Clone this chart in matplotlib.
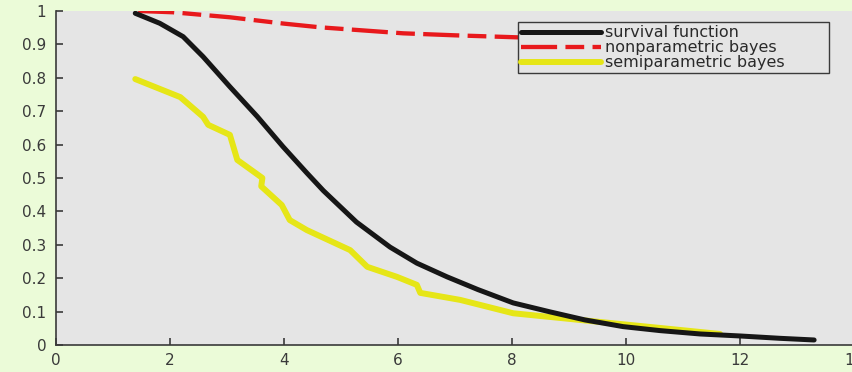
import matplotlib
matplotlib.use("Agg")
import matplotlib.pyplot as plt

# ---- data ----
surv_x = [1.39, 1.82, 2.23, 2.58, 3.05, 3.53, 3.98, 4.4, 4.69, 5.27, 5.86, 6.33,
          6.86, 7.4, 8.02, 8.67, 9.28, 9.95, 10.6, 11.3, 12.0, 12.7, 13.3]
surv_y = [0.993, 0.963, 0.923, 0.863, 0.773, 0.684, 0.594, 0.515, 0.462, 0.368, 0.293, 0.245,
          0.204, 0.166, 0.126, 0.099, 0.075, 0.055, 0.043, 0.033, 0.027, 0.02, 0.015]

nonp_x = [1.44, 2.05, 3.05, 4.0, 4.63, 6.09, 7.0, 8.09, 9.5, 11.0, 12.5, 13.3]
nonp_y = [1.0, 0.996, 0.981, 0.962, 0.951, 0.933, 0.927, 0.921, 0.912, 0.903, 0.895, 0.89]

semi_x = [1.39, 2.18, 2.58, 2.67, 3.05, 3.18, 3.62, 3.6, 3.96, 4.1, 4.4, 5.16, 5.46,
          5.98, 6.33, 6.39, 7.09, 7.44, 8.02, 9.6, 11.65]
semi_y = [0.796, 0.742, 0.683, 0.659, 0.629, 0.554, 0.5, 0.475, 0.419, 0.374, 0.344, 0.284, 0.234,
          0.204, 0.18, 0.156, 0.135, 0.12, 0.095, 0.068, 0.033]

labels = ["survival function", "nonparametric bayes", "semiparametric bayes"]
xticks = [0, 2, 4, 6, 8, 10, 12, 14]
yticks = [0, 0.1, 0.2, 0.3, 0.4, 0.5, 0.6, 0.7, 0.8, 0.9, 1]
ytick_labels = ["0", "0.1", "0.2", "0.3", "0.4", "0.5", "0.6", "0.7", "0.8", "0.9", "1"]

plt.rcParams['lines.scale_dashes'] = False
plt.rcParams['font.family'] = ['DejaVu Sans']

fig = plt.figure(figsize=(8.53, 3.72), dpi=100, facecolor="#ebfbd8")
ax = fig.add_axes([0.0657, 0.0726, 0.9355, 0.898])
ax.set_facecolor("#e5e5e5")

ax.plot(surv_x, surv_y, color="#161616", lw=3.6, solid_capstyle="round",
        solid_joinstyle="round", label=labels[0], zorder=3)
ln, = ax.plot(nonp_x, nonp_y, color="#e8191c", lw=3.1, label=labels[1],
              dash_capstyle="butt", zorder=2)
ln.set_dashes([26, 6, 13.5, 6])
ax.plot(semi_x, semi_y, color="#e6e617", lw=4.3, solid_capstyle="round",
        solid_joinstyle="round", label=labels[2], zorder=2.5)

ax.set_xlim(0, 14)
ax.set_ylim(0, 1)
ax.set_xticks(xticks)
ax.set_xticklabels([str(t) for t in xticks])
ax.set_yticks(yticks)
ax.set_yticklabels(ytick_labels)

for s in ["top", "right"]:
    ax.spines[s].set_visible(False)
for s in ["left", "bottom"]:
    ax.spines[s].set_color("#3a3a3a")
    ax.spines[s].set_linewidth(1.2)

ax.tick_params(direction="in", length=5, width=1.2, color="#3a3a3a",
               labelcolor="#3a3a3a", labelsize=11)
ax.tick_params(axis="y", pad=7)
ax.tick_params(axis="x", pad=6)

leg_x0 = 0.579
leg_w = 0.39
leg_top = 0.967
leg_h = 0.156
leg = ax.legend(loc="upper left", bbox_to_anchor=(leg_x0, leg_top - leg_h, leg_w, leg_h),
                mode="expand", borderaxespad=0,
                fontsize=11.5, handlelength=5.0, handletextpad=0.25, labelspacing=0.0,
                borderpad=0.2, fancybox=False, framealpha=1, facecolor="#e5e5e5",
                edgecolor="#3a3a3a")
leg.get_frame().set_linewidth(1.0)
for t in leg.get_texts():
    t.set_color("#2a2a2a")

fig.savefig("out.png", dpi=100, facecolor=fig.get_facecolor())
